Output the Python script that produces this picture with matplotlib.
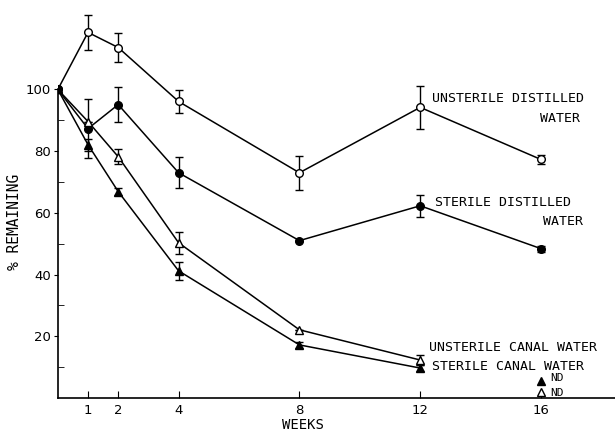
import matplotlib.pyplot as plt

weeks = [0, 1, 2, 4, 8, 12, 16]
weeks_canal = [0, 1, 2, 4, 8, 12]

unsterile_dist = [100, 118.5, 113.6, 96.1, 73.0, 94.2, 77.3]
unsterile_dist_err = [0, 5.7, 4.7, 3.6, 5.5, 7.0, 1.5]

sterile_dist = [100, 87.3, 95.1, 73.0, 51.0, 62.3, 48.4]
sterile_dist_err = [0, 9.5, 5.7, 5.0, 0, 3.5, 1.0]

unsterile_canal = [100, 89.6, 78.2, 50.3, 22.1, 12.3]
unsterile_canal_err = [0, 0, 2.5, 3.6, 0, 1.5]

sterile_canal = [100, 82.1, 66.9, 41.2, 17.2, 9.7]
sterile_canal_err = [0, 2.0, 1.0, 3.0, 1.0, 1.0]

# not detected at week 16
nd_week = 16
nd_sterile = 5.5
nd_unsterile = 2

plt.rcParams["font.family"] = ["DejaVu Sans"]
lab = dict(family="DejaVu Sans Mono", fontsize=9.5)

fig = plt.figure(figsize=(6.15, 4.34), dpi=100)
ax = fig.add_axes([0.094, 0.083, 0.906, 0.917])

kw = dict(color="black", lw=1.1, capsize=3, elinewidth=1.0, capthick=1.0, ms=5.5)
ax.errorbar(weeks, unsterile_dist, yerr=unsterile_dist_err, fmt="-o", mfc="white", mec="black", **kw)
ax.errorbar(weeks, sterile_dist, yerr=sterile_dist_err, fmt="-o", mfc="black", mec="black", **kw)
ax.errorbar(weeks_canal, unsterile_canal, yerr=unsterile_canal_err, fmt="-^", mfc="white", mec="black", **kw)
ax.errorbar(weeks_canal, sterile_canal, yerr=sterile_canal_err, fmt="-^", mfc="black", mec="black", **kw)

ax.plot([nd_week], [nd_sterile], marker="^", color="black", ms=5.5, ls="none")
ax.plot([nd_week], [nd_unsterile], marker="^", mfc="white", mec="black", ms=5.5, ls="none")
ax.text(nd_week + 0.3, nd_sterile + 1.0, "ND", va="center", family="DejaVu Sans Mono", fontsize=8)
ax.text(nd_week + 0.3, nd_unsterile - 0.3, "ND", va="center", family="DejaVu Sans Mono", fontsize=8)

ax.text(12.4, 97, "UNSTERILE DISTILLED", va="center", **lab)
ax.text(17.3, 90.5, "WATER", va="center", ha="right", **lab)
ax.text(12.5, 63.5, "STERILE DISTILLED", va="center", **lab)
ax.text(17.4, 57.3, "WATER", va="center", ha="right", **lab)
ax.text(12.3, 16.5, "UNSTERILE CANAL WATER", va="center", **lab)
ax.text(12.4, 10.3, "STERILE CANAL WATER", va="center", **lab)

ax.set_xlim(0, 18.45)
ax.set_ylim(0, 129)
ax.spines["top"].set_visible(False)
ax.spines["right"].set_visible(False)
ax.spines["left"].set_bounds(0, 100)
ax.spines["left"].set_linewidth(1.2)
ax.spines["bottom"].set_linewidth(1.2)

ax.set_xticks([1, 2, 4, 8, 12, 16])
ax.set_yticks([20, 40, 60, 80, 100])
ax.set_yticks([10, 30, 50, 70, 90], minor=True)
ax.tick_params(axis="x", direction="in", length=5, labelsize=9.5, pad=4)
ax.tick_params(axis="y", which="major", direction="out", length=3, labelsize=9.5, pad=2)
ax.tick_params(axis="y", which="minor", direction="in", length=4)

ax.set_xlabel("WEEKS", fontsize=10, family="DejaVu Sans Mono")
ax.xaxis.set_label_coords(0.44, -0.05)
ax.set_ylabel("% REMAINING", fontsize=10.5, family="DejaVu Sans Mono")
ax.yaxis.set_label_coords(-0.064, 0.442)

fig.savefig("out.png", dpi=100)
